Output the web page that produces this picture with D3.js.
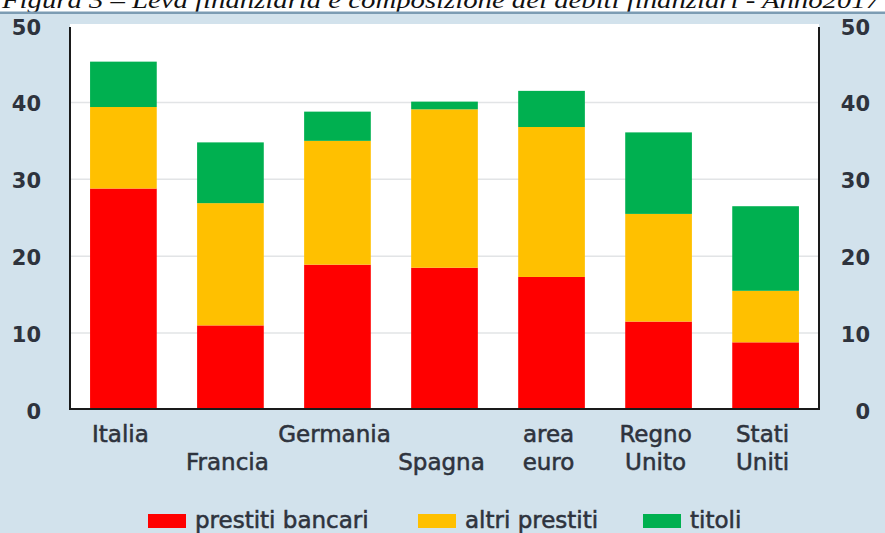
<!DOCTYPE html>
<html lang="it">
<head>
	<meta charset="utf-8">
	<title>Leva finanziaria</title>
	<style>
		html, body { margin: 0; padding: 0; background: #fff; }
		svg { display: block; }
		.tick-lbl { font-family: "DejaVu Sans", sans-serif; font-weight: bold; font-size: 21px; fill: #2e333d; }
		.cat-lbl, .leg-lbl { font-family: "DejaVu Sans", sans-serif; font-size: 23px; fill: #2e333d; stroke: #2e333d; stroke-width: 0.55px; }
	</style>
</head>
<body>
	<script src="https://cdn.jsdelivr.net/npm/d3@7"></script>
	<script>
		// categorie (su due righe, alternate come nel grafico originale)
		const categories = ["Italia", "Francia", "Germania", "Spagna", "area euro", "Regno Unito", "Stati Uniti"];
		const catLines = [
			["Italia", ""],
			["", "Francia"],
			["Germania", ""],
			["", "Spagna"],
			["area", "euro"],
			["Regno", "Unito"],
			["Stati", "Uniti"]
		];

		const series = ["prestiti bancari", "altri prestiti", "titoli"];
		const prestitiBancari = [28.8, 11.0, 18.9, 18.5, 17.3, 11.5, 8.8];
		const altriPrestiti = [10.6, 15.9, 16.1, 20.6, 19.5, 14.0, 6.7];
		const titoli = [5.9, 7.9, 3.8, 1.0, 4.7, 10.6, 11.0];
		const yTicks = [0, 10, 20, 30, 40, 50];
		const title = "Figura 3 – Leva finanziaria e composizione dei debiti finanziari - Anno2017";

		const colors = ["#ff0000", "#ffc000", "#00b050"];

		const W = 885, H = 533;
		const svg = d3.select("body").append("svg")
			.attr("width", W)
			.attr("height", H);

		// sfondo azzurro
		svg.append("rect")
			.attr("x", 0).attr("y", 13)
			.attr("width", W).attr("height", H - 13)
			.attr("fill", "#d2e2ec");

		// titolo (tagliato in alto come nell'originale)
		svg.append("text")
			.attr("x", 2).attr("y", 8)
			.attr("textLength", 878)
			.attr("lengthAdjust", "spacingAndGlyphs")
			.style("font-family", "'Liberation Serif', serif")
			.style("font-style", "italic")
			.style("font-size", "24px")
			.attr("fill", "#111")
			.text(title);

		svg.append("rect")
			.attr("x", 0).attr("y", 11.5)
			.attr("width", W).attr("height", 2.5)
			.attr("fill", "#7c9cb3");

		const plot = { left: 70, right: 819, top: 24, bottom: 410 };

		const x = d3.scaleBand()
			.domain(categories)
			.range([plot.left, plot.right])
			.paddingInner(0.377)
			.paddingOuter(0.1875);

		const y = d3.scaleLinear()
			.domain([0, 50])
			.range([410, 25.5]);

		// area bianca del grafico
		svg.append("rect")
			.attr("x", plot.left).attr("y", plot.top)
			.attr("width", plot.right - plot.left)
			.attr("height", plot.bottom - plot.top)
			.attr("fill", "#fff");

		// griglia
		svg.append("g")
			.selectAll("line")
			.data(yTicks.filter(d => d > 0 && d < 50))
			.join("line")
			.attr("x1", plot.left).attr("x2", plot.right)
			.attr("y1", d => y(d)).attr("y2", d => y(d))
			.attr("stroke", "#e2e4e6")
			.attr("stroke-width", 1.5);

		// barre impilate
		const rows = categories.map((c, i) => ({
			cat: c,
			"prestiti bancari": prestitiBancari[i],
			"altri prestiti": altriPrestiti[i],
			"titoli": titoli[i]
		}));
		const stacked = d3.stack().keys(series)(rows);

		svg.append("g")
			.selectAll("g")
			.data(stacked)
			.join("g")
			.attr("fill", (d, i) => colors[i])
			.selectAll("rect")
			.data(d => d)
			.join("rect")
			.attr("x", d => x(d.data.cat))
			.attr("width", x.bandwidth())
			.attr("y", d => y(d[1]))
			.attr("height", d => y(d[0]) - y(d[1]));

		// assi
		const axisColor = "#1a1a1a";
		svg.append("line")
			.attr("x1", plot.left).attr("x2", plot.left)
			.attr("y1", 27).attr("y2", plot.bottom)
			.attr("stroke", axisColor).attr("stroke-width", 2);
		svg.append("line")
			.attr("x1", plot.right).attr("x2", plot.right)
			.attr("y1", 27).attr("y2", plot.bottom)
			.attr("stroke", axisColor).attr("stroke-width", 2);
		svg.append("line")
			.attr("x1", plot.left - 1).attr("x2", plot.right + 1)
			.attr("y1", 409).attr("y2", 409)
			.attr("stroke", axisColor).attr("stroke-width", 2);

		// etichette asse y (sinistra e destra)
		[41, 870].forEach(xp => {
			svg.append("g")
				.selectAll("text")
				.data(yTicks)
				.join("text")
				.attr("class", "tick-lbl")
				.attr("x", xp)
				.attr("y", d => y(d) + 3)
				.attr("text-anchor", "end")
				.attr("dominant-baseline", "middle")
				.text(d => d);
		});

		// etichette categorie
		const rowY = [442, 470];
		svg.append("g")
			.selectAll("text")
			.data(categories.flatMap((c, i) => catLines[i].map((t, r) => ({ c, t, r }))).filter(d => d.t))
			.join("text")
			.attr("class", "cat-lbl")
			.attr("x", d => x(d.c) + x.bandwidth() / 2 - 3)
			.attr("y", d => rowY[d.r])
			.attr("text-anchor", "middle")
			.text(d => d.t);

		// legenda
		const legX = [148, 418, 643];
		const leg = svg.append("g")
			.selectAll("g")
			.data(series)
			.join("g")
			.attr("transform", (d, i) => `translate(${legX[i]},514)`);
		leg.append("rect")
			.attr("width", 38).attr("height", 14)
			.attr("fill", (d, i) => colors[i]);
		leg.append("text")
			.attr("class", "leg-lbl")
			.attr("x", 47).attr("y", 14)
			.text(d => d);
	</script>
</body>
</html>
